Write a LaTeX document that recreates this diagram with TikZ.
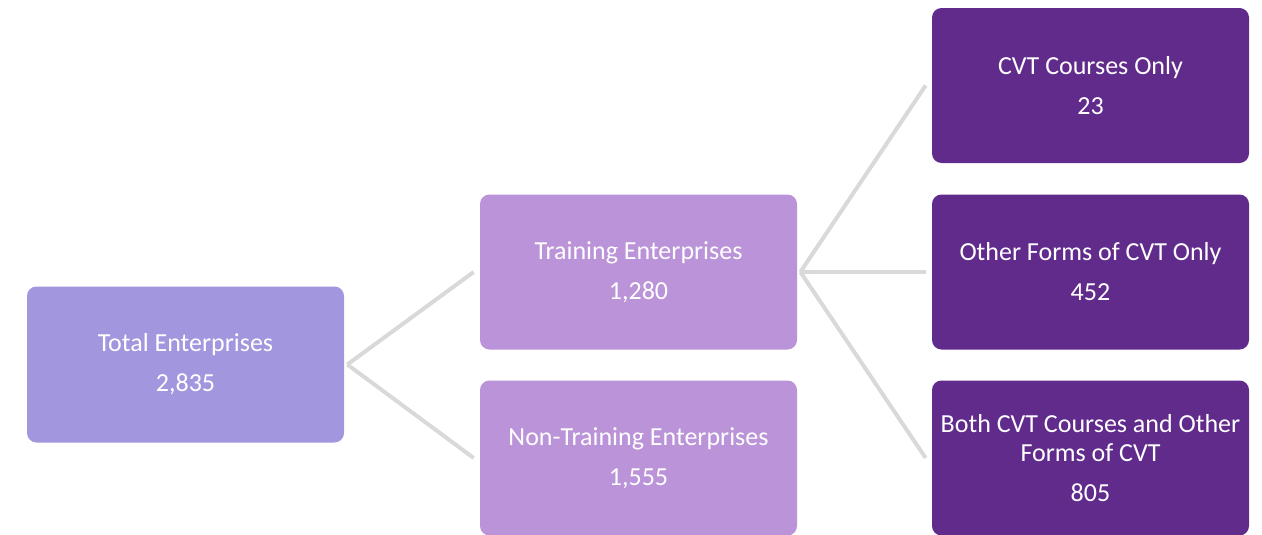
\documentclass[tikz,border=0pt]{standalone}
\usepackage{fontspec}
\setmainfont{Carlito}
\usepackage{xcolor}
\usepackage{tikz}
\usetikzlibrary{calc}

\definecolor{totalviolet}{HTML}{A297DF}
\definecolor{trainlilac}{HTML}{BB93D8}
\definecolor{cvtpurple}{HTML}{612B8C}
\definecolor{linkgrey}{HTML}{D9D9D9}

\begin{document}
\begin{tikzpicture}[
	box/.style={rectangle, rounded corners=0.19cm, minimum width=6.34cm,
		minimum height=3.1cm, inner sep=0pt, text=white, align=center,
		font=\fontsize{14.8}{16.5}\selectfont},
	link/.style={line width=0.08cm, linkgrey}
]

\useasboundingbox (0,0) rectangle (25.24,-10.68);

\node[box, fill=totalviolet, minimum height=3.12cm] (total) at (3.71,-7.29)
	{Total Enterprises\\[6.3pt]2,835};

\node[box, fill=trainlilac] (train) at (12.77,-5.44)
	{Training Enterprises\\[6.3pt]1,280};
\node[box, fill=trainlilac] (nontrain) at (12.77,-9.16)
	{Non-Training Enterprises\\[6.3pt]1,555};

\node[box, fill=cvtpurple] (courses) at (21.81,-1.71)
	{CVT Courses Only\\[6.3pt]23};
\node[box, fill=cvtpurple] (other) at (21.81,-5.44)
	{Other Forms of CVT Only\\[6.3pt]452};
\node[box, fill=cvtpurple] (both) at (21.81,-9.16)
	{Both CVT Courses and Other\\Forms of CVT\\[6.3pt]805};

% total -> training / non-training
\draw [link] ([xshift=0.06cm]total.east) -- ([xshift=-0.12cm]train.west);
\draw [link] ([xshift=0.06cm]total.east) -- ([xshift=-0.12cm]nontrain.west);

% training -> kinds of CVT
\draw [link] ([xshift=0.06cm]train.east) -- ([xshift=-0.12cm]courses.west);
\draw [link] ([xshift=0.06cm]train.east) -- ([xshift=-0.12cm]other.west);
\draw [link] ([xshift=0.06cm]train.east) -- ([xshift=-0.12cm]both.west);

\end{tikzpicture}
\end{document}
